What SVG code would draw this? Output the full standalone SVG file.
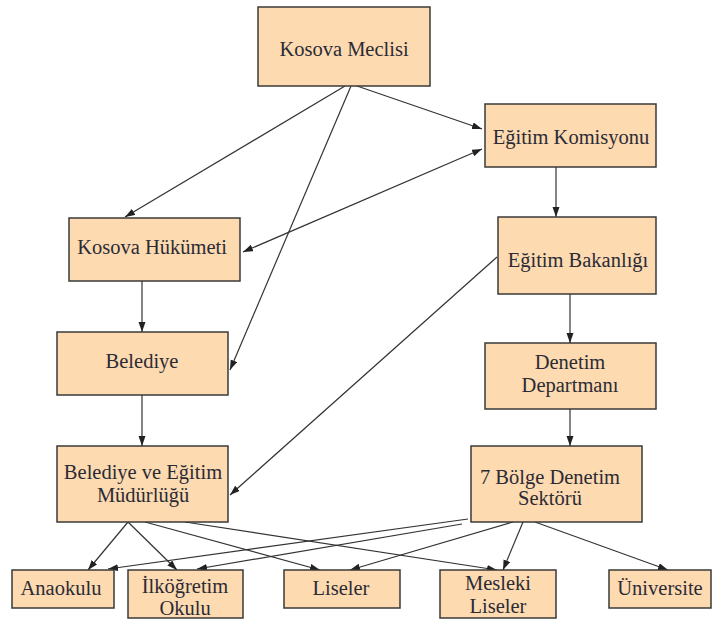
<svg xmlns="http://www.w3.org/2000/svg" width="713" height="619" viewBox="0 0 713 619">
<style>
.box{fill:#FDDAB0;stroke:#3a3a3a;stroke-width:1.5}
.t{font-family:"Liberation Serif","Times New Roman",serif;font-size:20.5px;fill:#2b2b36;text-anchor:middle}
.c line{stroke:#333;stroke-width:1.2;marker-end:url(#ah)}
</style>
<defs>
<marker id="ah" markerUnits="userSpaceOnUse" markerWidth="11" markerHeight="8" refX="10" refY="3.5" orient="auto-start-reverse">
<path d="M0,0 L10,3.5 L0,7 z" fill="#222"/>
</marker>
</defs>
<rect width="713" height="619" fill="#fff"/>
<g id="connectors" class="c">
<line x1="345" y1="86" x2="125" y2="217"/>
<line x1="351" y1="86" x2="230" y2="370"/>
<line x1="357" y1="86" x2="482" y2="129"/>
<line x1="243" y1="252" x2="482" y2="149" style="marker-start:url(#ah)"/>
<line x1="556" y1="167" x2="556" y2="217"/>
<line x1="142" y1="281" x2="142" y2="332"/>
<line x1="142" y1="395" x2="142" y2="446"/>
<line x1="497" y1="257" x2="230" y2="495"/>
<line x1="570" y1="294" x2="570" y2="343"/>
<line x1="570" y1="409" x2="570" y2="446"/>
<line x1="128" y1="522" x2="88" y2="570"/>
<line x1="128" y1="522" x2="177" y2="570"/>
<line x1="145" y1="522" x2="320" y2="570"/>
<line x1="185" y1="522" x2="497" y2="570"/>
<line x1="468" y1="519" x2="108" y2="569"/>
<line x1="462" y1="524" x2="197" y2="569"/>
<line x1="513" y1="522" x2="350" y2="570"/>
<line x1="523" y1="522" x2="503" y2="570"/>
<line x1="535" y1="522" x2="668" y2="570"/>
</g>
<g id="kosova-meclisi"><rect class="box" x="258" y="7" width="172" height="79"/><text class="t" x="344" y="56">Kosova Meclisi</text></g>
<g id="egitim-komisyonu"><rect class="box" x="485" y="104" width="171" height="63"/><text class="t" x="571" y="144">Eğitim Komisyonu</text></g>
<g id="kosova-hukumeti"><rect class="box" x="69" y="218" width="171" height="63"/><text class="t" x="152" y="254">Kosova Hükümeti</text></g>
<g id="egitim-bakanligi"><rect class="box" x="498" y="217" width="158" height="77"/><text class="t" x="578" y="267">Eğitim Bakanlığı</text></g>
<g id="belediye"><rect class="box" x="57" y="332" width="171" height="63"/><text class="t" x="142" y="368">Belediye</text></g>
<g id="denetim-departmani"><rect class="box" x="485" y="343" width="171" height="66"/><text class="t" x="570" y="369">Denetim</text><text class="t" x="570" y="392">Departmanı</text></g>
<g id="belediye-mudurlugu"><rect class="box" x="57" y="446" width="171" height="76"/><text class="t" x="143" y="479">Belediye ve Eğitim</text><text class="t" x="143" y="502">Müdürlüğü</text></g>
<g id="bolge-sektoru"><rect class="box" x="471" y="446" width="171" height="76"/><text class="t" x="550" y="484">7 Bölge Denetim</text><text class="t" x="550" y="505">Sektörü</text></g>
<g id="anaokulu"><rect class="box" x="12" y="570" width="102" height="38"/><text class="t" x="61" y="595">Anaokulu</text></g>
<g id="ilkogretim"><rect class="box" x="128" y="570" width="115" height="48"/><text class="t" x="185" y="593">İlköğretim</text><text class="t" x="185" y="615">Okulu</text></g>
<g id="liseler"><rect class="box" x="284" y="570" width="116" height="38"/><text class="t" x="341" y="595">Liseler</text></g>
<g id="mesleki-liseler"><rect class="box" x="440" y="570" width="116" height="48"/><text class="t" x="498" y="590">Mesleki</text><text class="t" x="498" y="613">Liseler</text></g>
<g id="universite"><rect class="box" x="609" y="570" width="102" height="38"/><text class="t" x="660" y="595">Üniversite</text></g>
</svg>
